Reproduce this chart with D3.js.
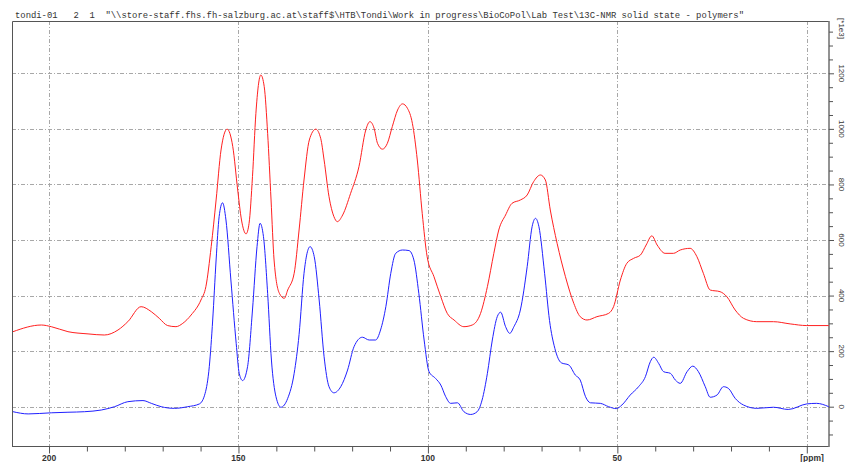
<!DOCTYPE html>
<html><head><meta charset="utf-8">
<script src="https://cdn.jsdelivr.net/npm/d3@7"></script>
<style>html,body{margin:0;padding:0;background:#fff;}svg{display:block;}</style>
</head><body>
<svg id="chart" width="846" height="462"></svg>
<script>
const titleText = 'tondi-01   2  1  "\\\\store-staff.fhs.fh-salzburg.ac.at\\staff$\\HTB\\Tondi\\Work in progress\\BioCoPol\\Lab Test\\13C-NMR solid state - polymers"';
const xTickLabels = [200, 150, 100, 50];
const xUnitLabel = "[ppm]";
const yTickLabels = [0, 200, 400, 600, 800, 1000, 1200];
const yUnitLabel = "[*1e3]";

const redPpm = [209.5,202,199.4,195,189.7,185.4,181.8,179.2,175.7,173,170.9,168.7,166.5,164.7,162.5,159.9,158.6,157.2,155.9,154.6,153,151.5,150.2,149.2,148,147.2,146.3,145.4,144.1,143.2,142.3,141.4,140.6,139.2,137.9,137,135.3,134,132.7,131.3,129.6,128.3,127.4,126.1,124.8,123.9,122.5,120.4,118.2,116.4,115.3,114.2,113.3,112,110.7,109.4,108,106.7,105.4,104.1,102.8,101.5,100.2,98.4,96.6,94.9,93.1,90.5,88.3,86.1,84.3,82.6,81.3,79.5,77.8,75.6,73.8,72.1,70.3,69,67.7,65.9,63.7,61.5,59.8,58,55.4,52.3,51,49.2,47.5,45.7,43.9,42.4,40.9,39.5,37.4,35.2,33.4,30.8,29,27.3,25.5,22.9,21.1,18.9,16.7,13.2,8.8,4.4,0,-5.8];
const redVal = [270,294,288,270,262,258,276,306,360,342,318,292,288,300,330,384,432,576,744,924,999,936,780,672,622,660,828,1056,1194,1152,984,744,528,408,390,420,480,636,816,960,999,966,888,756,684,666,690,768,864,996,1026,1002,948,927,948,1008,1068,1090,1074,1020,888,696,540,468,396,336,312,288,294,336,432,552,636,690,732,744,762,810,834,816,708,588,468,372,324,312,324,336,360,456,516,534,546,582,615,582,552,552,564,570,540,480,420,414,396,348,318,306,306,298,292,292];

const bluePpm = [209.5,205.5,199.4,195,190.6,186.2,182.7,179.2,175.2,173,170.4,166.9,163.4,160.3,158.8,157.7,156.8,155.9,155.1,154.2,153.3,152,150.6,149.8,148.9,147.6,146.3,145.1,144.3,143.4,142.3,141.3,140.1,138.8,137,135.3,134,132.7,131.1,130,128.7,127.4,126.1,124.8,123,121.2,119.5,117.3,115.5,113.8,112.5,111.1,109.8,108.5,106.7,105,103.7,102.4,101,99.7,98,96.6,95.3,94,92.2,90.5,88.7,87,85.7,84.3,83,81.7,80.8,79.5,78.4,77.3,75.6,73.8,72.5,71.6,70.7,69.2,67.9,66.5,64.8,62.8,61.1,59.8,58.4,57.1,54.5,52.3,50.3,48.8,46.6,44.4,42.6,41.3,40.4,39.1,37.8,36,34.7,33.4,31.6,30.1,28.6,26.8,25.5,23.7,22,20.7,18.9,16.7,13.2,8.8,4.9,0,-2.6,-5.8];
const blueVal = [-18,-26,-22,-20,-18,-12,0,18,22,12,0,-6,0,10,48,144,312,528,684,734,672,456,228,120,94,144,348,576,660,612,408,168,36,-2,30,120,260,480,576,540,384,180,72,50,72,132,216,250,240,240,276,360,480,552,564,562,528,408,240,126,102,78,36,12,14,-18,-28,-18,24,120,240,324,340,288,264,288,348,504,648,678,648,480,310,210,158,150,114,96,36,14,12,0,-7,6,42,72,108,162,178,156,126,120,96,84,126,146,126,72,34,42,72,66,30,6,-6,-2,-10,10,12,0];

const svg = d3.select("#chart");
const L = 12, R = 829, T = 21, B = 446.5;
const x = d3.scaleLinear().domain([209.77, -5.86]).range([L, R]);
const y = d3.scaleLinear().domain([-143.3, 1388.3]).range([B, T]);

// title
svg.append("text").attr("x", 15).attr("y", 17.5)
  .attr("font-family", "Liberation Mono, DejaVu Sans Mono, monospace")
  .attr("font-size", 8.6).attr("fill", "#333")
  .attr("textLength", 729).attr("lengthAdjust", "spacingAndGlyphs")
  .attr("xml:space", "preserve").style("white-space", "pre")
  .text(titleText);

// grid
const grid = svg.append("g").attr("stroke", "#a8a8a8").attr("stroke-width", 1).attr("stroke-dasharray", "4,2,1,2");
grid.selectAll(".hg").data(yTickLabels).join("line")
  .attr("x1", L).attr("x2", R).attr("y1", d => Math.round(y(d)) + 0.5).attr("y2", d => Math.round(y(d)) + 0.5);
grid.selectAll(".vg").data([200, 150, 100, 50, 0]).join("line")
  .attr("y1", T).attr("y2", B).attr("x1", d => Math.round(x(d)) + 0.5).attr("x2", d => Math.round(x(d)) + 0.5);

// frame
svg.append("path").attr("d", `M${L+0.5},${B}V${T+0.5}H${R}`).attr("fill", "none").attr("stroke", "#555").attr("stroke-width", 1);
svg.append("line").attr("x1", L).attr("x2", R).attr("y1", B).attr("y2", B).attr("stroke", "#555");
svg.append("line").attr("x1", R).attr("x2", R).attr("y1", T).attr("y2", B + 0.5).attr("stroke", "#777").attr("stroke-width", 1.6);

// bottom axis
const xAxis = d3.axisBottom(x).tickValues(d3.range(0, 201, 10)).tickSize(5).tickFormat("");
const gx = svg.append("g").attr("transform", `translate(0,${B})`).call(xAxis);
gx.select(".domain").remove();
gx.selectAll(".tick line").attr("stroke", "#555").attr("y2", d => d % 50 === 0 ? 7 : 5);
svg.selectAll(".xl").data(xTickLabels).join("text")
  .attr("x", d => x(d)).attr("y", 461).attr("text-anchor", "middle")
  .attr("font-family", "Liberation Sans, Arial, sans-serif").attr("font-size", 8.5).attr("font-weight", "bold").attr("fill", "#333")
  .text(d => d);
svg.append("text").attr("x", 812).attr("y", 461).attr("text-anchor", "middle")
  .attr("font-family", "Liberation Sans, Arial, sans-serif").attr("font-size", 8.5).attr("font-weight", "bold").attr("fill", "#333")
  .text(xUnitLabel);

// right axis
const yAxis = d3.axisRight(y).tickValues(d3.range(-100, 1351, 50)).tickSize(4).tickFormat("");
const gy = svg.append("g").attr("transform", `translate(${R},0)`).call(yAxis);
gy.select(".domain").remove();
gy.selectAll(".tick line").attr("stroke", "#555").attr("x2", d => d % 200 === 0 ? 5 : 4);
svg.selectAll(".yl").data(yTickLabels).join("text")
  .attr("transform", d => `translate(841,${y(d)}) rotate(90)`)
  .attr("text-anchor", "middle").attr("dominant-baseline", "central")
  .attr("font-family", "Liberation Sans, Arial, sans-serif").attr("font-size", 8).attr("fill", "#333")
  .text(d => d);
svg.append("text").attr("transform", `translate(841,28.5) rotate(90)`)
  .attr("text-anchor", "middle").attr("dominant-baseline", "central")
  .attr("font-family", "Liberation Sans, Arial, sans-serif").attr("font-size", 8).attr("fill", "#333")
  .text(yUnitLabel);

// spectra
const line = d3.line().x(d => x(d[0])).y(d => y(d[1])).curve(d3.curveMonotoneX);
svg.append("path").datum(redPpm.map((p, i) => [p, redVal[i]]))
  .attr("d", line).attr("fill", "none").attr("stroke", "#ff2020").attr("stroke-width", 1);
svg.append("path").datum(bluePpm.map((p, i) => [p, blueVal[i]]))
  .attr("d", line).attr("fill", "none").attr("stroke", "#2020ff").attr("stroke-width", 1);
</script>
</body></html>
